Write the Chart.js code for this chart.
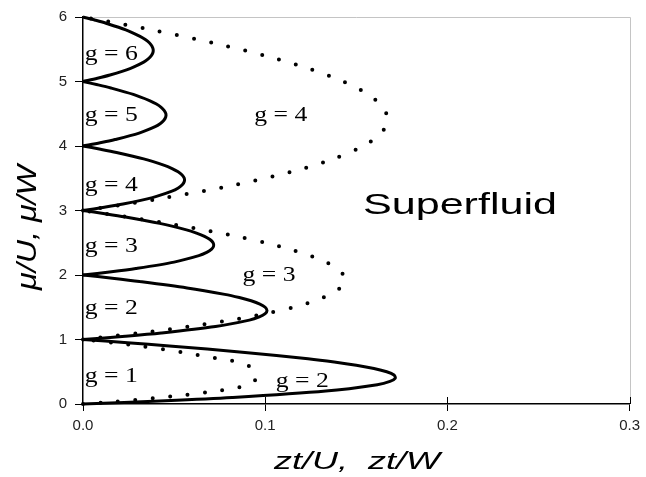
<!DOCTYPE html>
<html>
<head>
<meta charset="utf-8">
<script src="https://cdn.jsdelivr.net/npm/chart.js@4/dist/chart.umd.min.js"></script>
<style>
  html, body { margin: 0; padding: 0; background: #fff; }
  #wrap { width: 646px; height: 477px; }
</style>
</head>
<body>
<div id="wrap"><canvas id="c" width="646" height="477"></canvas></div>
<script>
// ---------- data ----------
const xTickLabels = ['0.0', '0.1', '0.2', '0.3'];
const yTickLabels = ['0', '1', '2', '3', '4', '5', '6'];

// solid Mott lobes (mu/U vs zt/U)
const lobe1Mu = [0, 0.05, 0.1, 0.2, 0.3, 0.35, 0.4, 0.45, 0.5, 0.55, 0.6, 0.65, 0.7, 0.8, 0.9, 0.95, 1];
const lobe1Zt = [0, 0.0452, 0.0818, 0.1333, 0.1615, 0.1685, 0.1714, 0.1707, 0.1667, 0.1597, 0.1500, 0.1379, 0.1235, 0.0889, 0.0474, 0.0244, 0];
const lobe2Mu = [1, 1.05, 1.1, 1.2, 1.3, 1.35, 1.4, 1.45, 1.5, 1.55, 1.6, 1.65, 1.7, 1.8, 1.9, 1.95, 2];
const lobe2Zt = [0, 0.0232, 0.0429, 0.0727, 0.0913, 0.0968, 0.1000, 0.1010, 0.1000, 0.0971, 0.0923, 0.0858, 0.0778, 0.0571, 0.0310, 0.0161, 0];
const lobe3Mu = [2, 2.05, 2.1, 2.2, 2.3, 2.35, 2.4, 2.45, 2.5, 2.55, 2.6, 2.65, 2.7, 2.8, 2.9, 2.95, 3];
const lobe3Zt = [0, 0.0156, 0.0290, 0.0500, 0.0636, 0.0679, 0.0706, 0.0717, 0.0714, 0.0697, 0.0667, 0.0623, 0.0568, 0.0421, 0.0231, 0.0120, 0];
const lobe4Mu = [3, 3.05, 3.1, 3.2, 3.3, 3.35, 3.4, 3.45, 3.5, 3.55, 3.6, 3.65, 3.7, 3.8, 3.9, 3.95, 4];
const lobe4Zt = [0, 0.0117, 0.0220, 0.0381, 0.0488, 0.0523, 0.0545, 0.0556, 0.0556, 0.0544, 0.0522, 0.0489, 0.0447, 0.0333, 0.0184, 0.0096, 0];
const lobe5Mu = [4, 4.05, 4.1, 4.2, 4.3, 4.35, 4.4, 4.45, 4.5, 4.55, 4.6, 4.65, 4.7, 4.8, 4.9, 4.95, 5];
const lobe5Zt = [0, 0.0094, 0.0176, 0.0308, 0.0396, 0.0425, 0.0444, 0.0454, 0.0455, 0.0446, 0.0429, 0.0403, 0.0368, 0.0276, 0.0153, 0.0080, 0];
const lobe6Mu = [5, 5.05, 5.1, 5.2, 5.3, 5.35, 5.4, 5.45, 5.5, 5.55, 5.6, 5.65, 5.7, 5.8, 5.9, 5.95, 6];
const lobe6Zt = [0, 0.0079, 0.0148, 0.0258, 0.0333, 0.0358, 0.0375, 0.0384, 0.0385, 0.0378, 0.0364, 0.0342, 0.0313, 0.0235, 0.0130, 0.0068, 0];

// dotted lobes (mu/W vs zt/W)
const dotAMu = [0, 0.03, 0.06, 0.09, 0.14, 0.2, 0.25, 0.3, 0.36, 0.43, 0.5, 0.57, 0.65, 0.7, 0.75, 0.8, 0.85, 0.9, 0.94, 0.97, 1];
const dotAZt = [0, 0.015, 0.028, 0.038, 0.056, 0.073, 0.084, 0.091, 0.0942, 0.0950, 0.0945, 0.0925, 0.085, 0.075, 0.065, 0.055, 0.044, 0.031, 0.019, 0.010, 0];
const dotBMu = [1, 1.1, 1.2, 1.3, 1.4, 1.5, 1.6, 1.7, 1.8, 1.9, 2.0, 2.1, 2.2, 2.3, 2.4, 2.5, 2.6, 2.7, 2.8, 2.9, 3];
const dotBZt = [0, 0.0311, 0.0581, 0.0810, 0.1000, 0.1154, 0.1273, 0.1358, 0.1412, 0.1435, 0.1429, 0.1394, 0.1333, 0.1247, 0.1135, 0.1000, 0.0842, 0.0662, 0.0462, 0.0241, 0];
const dotCMu = [3, 3.1, 3.2, 3.4, 3.6, 3.8, 4.0, 4.2, 4.4, 4.6, 4.8, 5.0, 5.2, 5.4, 5.6, 5.8, 5.9, 6];
const dotCZt = [0, 0.0240, 0.0459, 0.0839, 0.1143, 0.1375, 0.1538, 0.1636, 0.1672, 0.1647, 0.1565, 0.1429, 0.1239, 0.1000, 0.0712, 0.0378, 0.0195, 0];

// region labels
const regionLabels = ['g = 6', 'g = 5', 'g = 4', 'g = 3', 'g = 2', 'g = 1', 'g = 4', 'g = 3', 'g = 2'];
const phaseLabel = 'Superfluid';
const xTitle = 'zt/U,  zt/W';
const yTitle = 'μ/U, μ/W';

// ---------- layout (positions in data coordinates; left x, baseline y) ----------
const labelAnchors = [
  [0.001, 5.33], [0.001, 4.39], [0.001, 3.31], [0.001, 2.35], [0.001, 1.40], [0.001, 0.344],
  [0.094, 4.39], [0.0876, 1.90], [0.1058, 0.258]
];

const SANS = "'Liberation Sans', Arial, sans-serif";
const SERIF = "'Liberation Serif', 'Times New Roman', serif";

function pts(mu, zt) { return mu.map((m, i) => ({ x: zt[i], y: m })); }

function solid(mu, zt) {
  return { data: pts(mu, zt), showLine: true, borderColor: '#000', borderWidth: 3,
           tension: 0.3, pointRadius: 0, fill: false, clip: false };
}
function dotted(mu, zt) {
  return { data: pts(mu, zt), showLine: true, borderColor: '#000', borderWidth: 4,
           borderDash: [0, 17.5], borderCapStyle: 'round', tension: 0.3,
           pointRadius: 0, fill: false, clip: false };
}

function drawStretched(ctx, text, font, x, y, width, align, angle) {
  ctx.save();
  ctx.font = font;
  const w = ctx.measureText(text).width;
  ctx.translate(x, y);
  if (angle) ctx.rotate(angle);
  ctx.scale(width / w, 1);
  ctx.textAlign = align;
  ctx.textBaseline = 'alphabetic';
  ctx.fillStyle = '#000';
  ctx.fillText(text, 0, 0);
  ctx.restore();
}

const framePlugin = {
  id: 'frame',
  beforeDatasetsDraw(chart) {
    const { ctx, chartArea: a, scales: { x } } = chart;
    ctx.save();
    ctx.strokeStyle = '#c4c4c4';
    ctx.lineWidth = 1;
    ctx.beginPath();
    ctx.moveTo(a.left, Math.round(a.top) + 0.5);
    ctx.lineTo(Math.round(a.right) + 0.5, Math.round(a.top) + 0.5);
    ctx.lineTo(Math.round(a.right) + 0.5, a.bottom);
    ctx.stroke();
    // inner halves of the x tick marks
    ctx.strokeStyle = '#000';
    ctx.beginPath();
    x.ticks.forEach(t => {
      if (t.value === 0) return;
      const px = Math.round(x.getPixelForValue(t.value)) + 0.5;
      ctx.moveTo(px, a.bottom - 7);
      ctx.lineTo(px, a.bottom);
    });
    ctx.stroke();
    ctx.restore();
  },
  afterDraw(chart) {
    const { ctx, scales: { x, y } } = chart;
    regionLabels.forEach((txt, i) => {
      const [lx, ly] = labelAnchors[i];
      drawStretched(ctx, txt, '22px ' + SERIF, x.getPixelForValue(lx), y.getPixelForValue(ly), 53, 'left');
    });
    drawStretched(ctx, phaseLabel, '30px ' + SANS, 363, 214, 194, 'left');
    drawStretched(ctx, xTitle, 'italic 24px ' + SANS, 357, 469, 166, 'center');
    drawStretched(ctx, yTitle, 'italic 28px ' + SANS, 36, 227.5, 125, 'center', -Math.PI / 2);
  }
};

new Chart(document.getElementById('c'), {
  type: 'scatter',
  data: {
    datasets: [
      solid(lobe1Mu, lobe1Zt), solid(lobe2Mu, lobe2Zt), solid(lobe3Mu, lobe3Zt),
      solid(lobe4Mu, lobe4Zt), solid(lobe5Mu, lobe5Zt), solid(lobe6Mu, lobe6Zt),
      dotted(dotAMu, dotAZt), dotted(dotBMu, dotBZt), dotted(dotCMu, dotCZt)
    ]
  },
  options: {
    responsive: false,
    devicePixelRatio: 1,
    animation: false,
    layout: { padding: { left: 0, right: 14, top: 15, bottom: 0 } },
    plugins: { legend: { display: false }, tooltip: { enabled: false } },
    scales: {
      x: {
        type: 'linear', min: 0, max: 0.3,
        ticks: { stepSize: 0.1, padding: 6, color: '#222', font: { family: SANS, size: 15 },
                 callback: (v, i) => xTickLabels[i] },
        grid: { drawOnChartArea: false, tickLength: 7, color: '#000', lineWidth: 1 },
        border: { color: '#000', width: 1.5 },
        afterFit(s) { s.height = 73; }
      },
      y: {
        type: 'linear', min: 0, max: 6,
        ticks: { stepSize: 1, padding: 8, color: '#222', font: { family: SANS, size: 15 },
                 callback: (v, i) => yTickLabels[i] },
        grid: { drawOnChartArea: false, tickLength: 8, color: '#000', lineWidth: 1 },
        border: { color: '#000', width: 1.5 },
        afterFit(s) { s.width = 83; }
      }
    }
  },
  plugins: [framePlugin]
});
</script>
</body>
</html>
